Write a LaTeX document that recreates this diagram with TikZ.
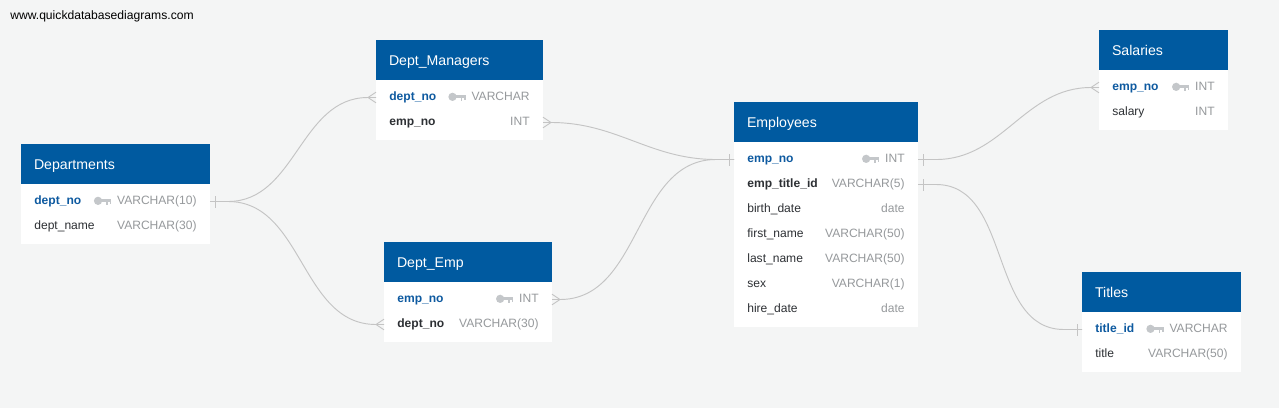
\documentclass[tikz,border=0pt]{standalone}
\usepackage{fontspec}
\setmainfont{Liberation Sans}
\usepackage{xcolor}
\usetikzlibrary{positioning,calc}

\definecolor{hdrblue}{RGB}{0,90,160}
\definecolor{keyblue}{RGB}{14,90,160}
\definecolor{typegray}{RGB}{150,153,156}
\definecolor{icongray}{RGB}{196,199,202}
\definecolor{namedark}{RGB}{45,48,52}
\definecolor{linkgray}{RGB}{196,196,196}
\definecolor{canvasbg}{RGB}{244,245,245}

\newcommand\pkey{\tikz[baseline=-3pt]{\fill[icongray] (3pt,0) circle (3.1pt); \fill[icongray] (4pt,-1pt) rectangle (12.8pt,1.2pt); \fill[icongray] (9.2pt,-1pt) rectangle (10.4pt,-2.9pt); \fill[icongray] (11.6pt,-1pt) rectangle (12.8pt,-2.5pt);}}

\tikzset{
    hdr/.style={fill=hdrblue, text=white, font=\fontsize{10.6}{12}\selectfont, inner xsep=9.75pt, inner ysep=0pt, outer sep=0pt, minimum height=30pt, text height=8.5pt, text depth=0.5pt, text width=#1, align=left, anchor=north west},
    body/.style={fill=white, inner sep=0pt, outer sep=0pt, minimum width=#1},
    row/.style={inner xsep=10pt, inner ysep=0pt, outer sep=0pt, minimum height=18.75pt, text height=6.5pt, text depth=1.5pt, text width=#1, align=left, text=typegray, font=\fontsize{9.05}{10}\selectfont},
    link/.style={draw=linkgray, line width=0.7pt},
    onebar/.pic={\draw[link] (3.75pt,-4.5pt) -- (3.75pt,4.5pt);},
    crowfoot/.pic={\draw[link] (0pt,4pt) -- (6pt,0pt) -- (0pt,-4pt);}
}

\begin{document}
\begin{tikzpicture}[x=0.75pt,y=-0.75pt]
        \fill[canvasbg] (0,0) rectangle (1279,408);
        \useasboundingbox (0,0) rectangle (1279,408);

        \node[anchor=west, inner sep=0pt, font=\fontsize{9.1}{11}\selectfont] (site) at (10,16) {www.quickdatabasediagrams.com};

        % Departments
        \node[hdr=122.25pt] (dep) at (21,144) {Departments};
        \node[body=141.75pt, minimum height=45pt, below=0pt of dep] (dep-body) {};
        \node[row=121.75pt, below=3.75pt of dep] (dep-deptno) {{\bfseries\color{keyblue}dept\_no}\hfill\pkey\hspace{4.5pt}VARCHAR(10)};
        \node[row=121.75pt, below=0pt of dep-deptno] (dep-deptname) {{\color{namedark}dept\_name}\hfill VARCHAR(30)};

        % Dept_Managers
        \node[hdr=105.75pt] (dm) at (376,40) {Dept\_Managers};
        \node[body=125.25pt, minimum height=45pt, below=0pt of dm] (dm-body) {};
        \node[row=105.25pt, below=3.75pt of dm] (dm-deptno) {{\bfseries\color{keyblue}dept\_no}\hfill\pkey\hspace{4.5pt}VARCHAR};
        \node[row=105.25pt, below=0pt of dm-deptno] (dm-empno) {{\bfseries\color{namedark}emp\_no}\hfill INT};

        % Dept_Emp
        \node[hdr=106.5pt] (de) at (384,242) {Dept\_Emp};
        \node[body=126pt, minimum height=45pt, below=0pt of de] (de-body) {};
        \node[row=106pt, below=3.75pt of de] (de-empno) {{\bfseries\color{keyblue}emp\_no}\hfill\pkey\hspace{4.5pt}INT};
        \node[row=106pt, below=0pt of de-empno] (de-deptno) {{\bfseries\color{namedark}dept\_no}\hfill VARCHAR(30)};

        % Employees
        \node[hdr=118.5pt] (emp) at (734,102) {Employees};
        \node[body=138pt, minimum height=138.75pt, below=0pt of emp] (emp-body) {};
        \node[row=118pt, below=3.75pt of emp] (emp-empno) {{\bfseries\color{keyblue}emp\_no}\hfill\pkey\hspace{4.5pt}INT};
        \node[row=118pt, below=0pt of emp-empno] (emp-titleid) {{\bfseries\color{namedark}emp\_title\_id}\hfill VARCHAR(5)};
        \node[row=118pt, below=0pt of emp-titleid] (emp-birth) {{\color{namedark}birth\_date}\hfill date};
        \node[row=118pt, below=0pt of emp-birth] (emp-first) {{\color{namedark}first\_name}\hfill VARCHAR(50)};
        \node[row=118pt, below=0pt of emp-first] (emp-last) {{\color{namedark}last\_name}\hfill VARCHAR(50)};
        \node[row=118pt, below=0pt of emp-last] (emp-sex) {{\color{namedark}sex}\hfill VARCHAR(1)};
        \node[row=118pt, below=0pt of emp-sex] (emp-hire) {{\color{namedark}hire\_date}\hfill date};

        % Salaries
        \node[hdr=77.25pt] (sal) at (1099,30) {Salaries};
        \node[body=96.75pt, minimum height=45pt, below=0pt of sal] (sal-body) {};
        \node[row=76.75pt, below=3.75pt of sal] (sal-empno) {{\bfseries\color{keyblue}emp\_no}\hfill\pkey\hspace{4.5pt}INT};
        \node[row=76.75pt, below=0pt of sal-empno] (sal-salary) {{\color{namedark}salary}\hfill INT};

        % Titles
        \node[hdr=99.75pt] (tit) at (1082,272) {Titles};
        \node[body=119.25pt, minimum height=45pt, below=0pt of tit] (tit-body) {};
        \node[row=99.25pt, below=3.75pt of tit] (tit-titleid) {{\bfseries\color{keyblue}title\_id}\hfill\pkey\hspace{4.5pt}VARCHAR};
        \node[row=99.25pt, below=0pt of tit-titleid] (tit-title) {{\color{namedark}title}\hfill VARCHAR(50)};

        % relations
        \draw[link] (dep-deptno.east) -- ++(13.5pt,0) to[out=0,in=180] ($(dm-deptno.west)+(-6pt,0)$) -- (dm-deptno.west);
        \draw[link] (dep-deptno.east) -- ++(13.5pt,0) to[out=0,in=180] ($(de-deptno.west)+(-6pt,0)$) -- (de-deptno.west);
        \draw[link] (dm-empno.east) -- ++(6pt,0) to[out=0,in=180] ($(emp-empno.west)+(-13.5pt,0)$) -- (emp-empno.west);
        \draw[link] (de-empno.east) -- ++(6pt,0) to[out=0,in=180] ($(emp-empno.west)+(-13.5pt,0)$) -- (emp-empno.west);
        \draw[link] (emp-empno.east) -- ++(13.5pt,0) to[out=0,in=180] ($(sal-empno.west)+(-6pt,0)$) -- (sal-empno.west);
        \draw[link] (emp-titleid.east) -- ++(13.5pt,0) to[out=0,in=180] ($(tit-titleid.west)+(-13.5pt,0)$) -- (tit-titleid.west);

        \path (dep-deptno.east) pic {onebar};
        \path (dm-deptno.west) pic[xscale=-1] {crowfoot};
        \path (de-deptno.west) pic[xscale=-1] {crowfoot};
        \path (dm-empno.east) pic {crowfoot};
        \path (de-empno.east) pic {crowfoot};
        \path (emp-empno.west) pic[xscale=-1] {onebar};
        \path (emp-empno.east) pic {onebar};
        \path (sal-empno.west) pic[xscale=-1] {crowfoot};
        \path (emp-titleid.east) pic {onebar};
        \path (tit-titleid.west) pic[xscale=-1] {onebar};
\end{tikzpicture}
\end{document}
